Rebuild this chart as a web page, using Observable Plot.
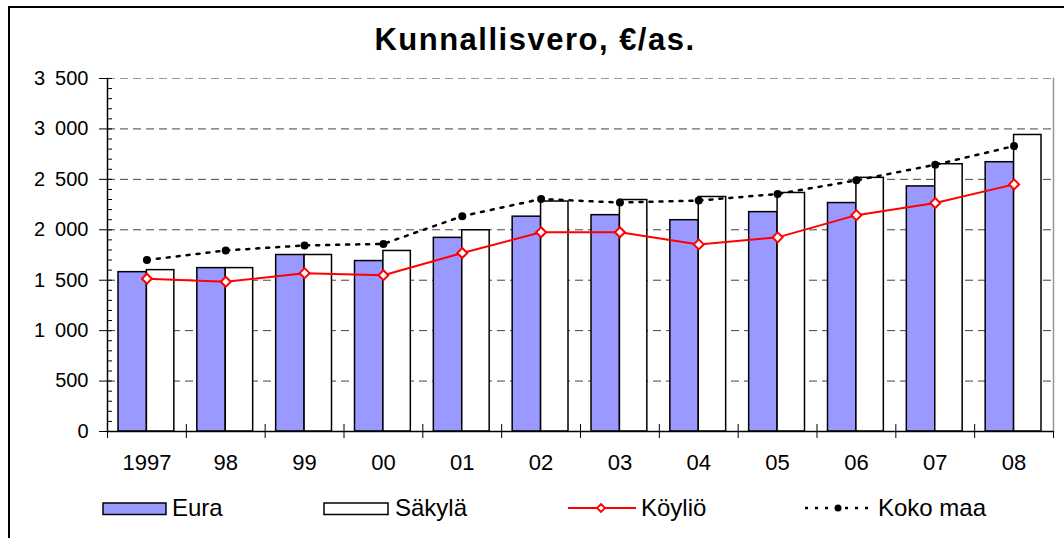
<!DOCTYPE html>
<html>
<head>
<meta charset="utf-8">
<script src="https://cdn.jsdelivr.net/npm/d3@7"></script>
<script src="https://cdn.jsdelivr.net/npm/@observablehq/plot@0.6"></script>
<style>
  body { margin: 0; background: #fff; font-family: "Liberation Sans", Arial, sans-serif; }
  #wrap { position: relative; width: 1064px; height: 538px; overflow: hidden; background: #fff; }
  #border { position: absolute; left: 8px; top: 6px; right: -10px; bottom: -10px; border-left: 2px solid #000; border-top: 2px solid #000; pointer-events: none; }
  #title { position: relative; height: 66px; }
  #title span { position: absolute; left: 0; width: 1070px; text-align: center; top: 24px; font-size: 31px; font-weight: bold; line-height: 31px; letter-spacing: 1.5px; color: #000; white-space: nowrap; }
  #chart { height: 414px; }
  #chart svg { display: block; }
  #legend { position: relative; height: 58px; }
  #legend svg { position: absolute; }
  #legend span { position: absolute; font-size: 24px; line-height: 24px; top: 16px; color: #000; white-space: nowrap; }
</style>
</head>
<body>
<div id="wrap">
  <div id="title"><span>Kunnallisvero, €/as.</span></div>
  <div id="chart"></div>
  <div id="legend">
    <svg style="left:102px;top:22px" width="66" height="14"><rect x="1" y="1" width="63" height="11.5" fill="#9999ff" stroke="#000" stroke-width="1.5"/></svg>
    <span style="left:172px">Eura</span>
    <svg style="left:323px;top:22px" width="67" height="14"><rect x="1" y="1" width="64" height="11.5" fill="#fff" stroke="#000" stroke-width="1.5"/></svg>
    <span style="left:395px">Säkylä</span>
    <svg style="left:567px;top:20px" width="70" height="16"><line x1="1" y1="8" x2="69" y2="8" stroke="#f00" stroke-width="2"/><path d="M34,4 L38,8 L34,12 L30,8 Z" fill="#fff" stroke="#f00" stroke-width="1.8"/></svg>
    <span style="left:641px">Köyliö</span>
    <svg style="left:804px;top:20px" width="70" height="16"><line x1="1" y1="8" x2="69" y2="8" stroke="#000" stroke-width="2.5" stroke-dasharray="3,7"/><circle cx="34" cy="8" r="3.5" fill="#000"/></svg>
    <span style="left:878px">Koko maa</span>
  </div>
  <div id="border"></div>
</div>
<script>
// Data
const years   = ["1997", "98", "99", "00", "01", "02", "03", "04", "05", "06", "07", "08"];
const eura    = [1580, 1620, 1750, 1690, 1920, 2130, 2145, 2095, 2175, 2265, 2430, 2670];
const sakyla  = [1600, 1620, 1750, 1790, 1995, 2280, 2295, 2325, 2365, 2515, 2650, 2940];
const koylio  = [1515, 1485, 1570, 1550, 1770, 1975, 1975, 1855, 1925, 2145, 2265, 2450];
const kokoMaa = [1700, 1795, 1845, 1860, 2135, 2305, 2270, 2290, 2355, 2490, 2645, 2830];
const yMajor  = [0, 500, 1000, 1500, 2000, 2500, 3000, 3500];

const rows = years.map((y, i) => ({year: y, eura: eura[i], sakyla: sakyla[i], koylio: koylio[i], koko: kokoMaa[i]}));

const W = 1064, ML = 107, MR = 11;
const step = (W - ML - MR) / years.length;
const fmt = d => d3.format(",")(d).replace(/,/g, "\u2002");
const font = "Liberation Sans, Arial, sans-serif";

const chart = Plot.plot({
  width: W,
  height: 414,
  marginLeft: ML,
  marginRight: MR,
  marginTop: 12,
  marginBottom: 49,
  style: {fontFamily: font, background: "transparent", overflow: "visible", color: "#000"},
  x: {type: "band", domain: years, padding: 0, round: false, label: null},
  y: {domain: [0, 3500], label: null},
  marks: [
    Plot.ruleY(yMajor.filter(v => v > 0 && v < 3500), {stroke: "#444", strokeDasharray: "8,5"}),
    Plot.ruleY(yMajor.filter(v => v === 3500), {stroke: "#999", strokeDasharray: "8,5"}),
    Plot.frame({anchor: "right", stroke: "#999", strokeWidth: 1.5}),
    Plot.barY(rows, {x: "year", y: "eura", fill: "#9999ff", stroke: "#000", strokeWidth: 1.5, insetLeft: 11, insetRight: step / 2}),
    Plot.barY(rows, {x: "year", y: "sakyla", fill: "#fff", stroke: "#000", strokeWidth: 1.5, insetLeft: step / 2, insetRight: 12}),
    Plot.line(rows, {x: "year", y: "koko", stroke: "#000", strokeWidth: 2.5, strokeDasharray: "3,7"}),
    Plot.dot(rows, {x: "year", y: "koko", r: 4, fill: "#000"}),
    Plot.line(rows, {x: "year", y: "koylio", stroke: "#f00", strokeWidth: 2}),
    Plot.dot(rows, {x: "year", y: "koylio", symbol: "diamond2", r: 4.5, fill: "#fff", stroke: "#f00", strokeWidth: 2}),
    Plot.ruleY([0], {stroke: "#000", strokeWidth: 1.5}),
    Plot.frame({anchor: "left", stroke: "#000", strokeWidth: 1.5}),
    Plot.axisY({ticks: yMajor, tickSize: 8, tickPadding: 11, tickFormat: fmt, fontSize: 20, label: null, stroke: "#000"}),
    Plot.axisY({ticks: d3.range(0, 3501, 100), tickSize: -5, tickFormat: () => "", label: null, stroke: "#000"}),
    Plot.ruleX(years, {x: d => d, y1: 0, y2: 0, insetTop: -7, insetBottom: -7, dx: -step / 2, stroke: "#000"}),
    Plot.ruleX(years.slice(-1), {x: d => d, y1: 0, y2: 0, insetTop: 0, insetBottom: -7, dx: step / 2, stroke: "#000"}),
    Plot.axisX({tickSize: 0, tickPadding: 23, fontSize: 22, label: null})
  ]
});
document.getElementById("chart").appendChild(chart);
</script>
</body>
</html>
